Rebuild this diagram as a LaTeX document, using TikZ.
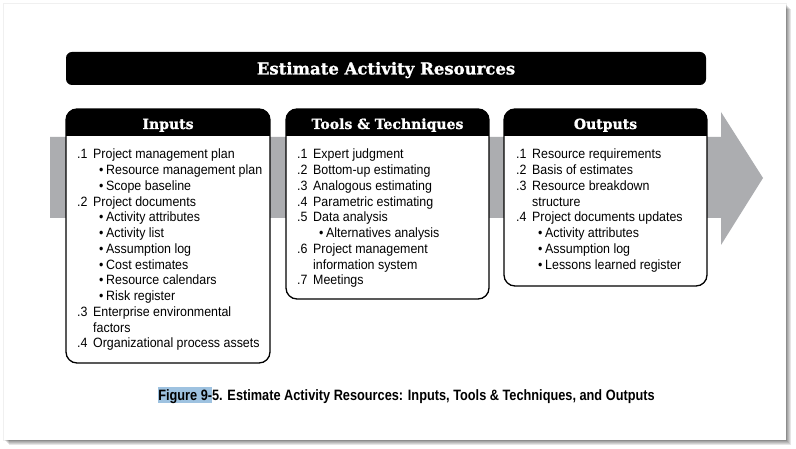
\documentclass[tikz,border=0pt]{standalone}
\usepackage{fontspec}
\setmainfont{Liberation Sans}
\newfontfamily\bodyfont[FakeStretch=0.92]{Liberation Sans}
\newfontfamily\capfont[FakeStretch=0.85]{Liberation Sans}
\newfontfamily\headfont[BoldFeatures={FakeBold=1.2}]{DejaVu Serif}
\definecolor{arrowgray}{RGB}{172,173,176}
\definecolor{hilite}{RGB}{158,194,224}
\newcommand\numline[2]{\makebox[16pt][l]{#1}#2}
\newcommand\bulline[1]{\hspace*{22pt}\makebox[7pt][l]{\textbullet}#1}
\newcommand\contline[1]{\hspace*{16pt}#1}
\tikzset{
  boxborder/.style={draw=black,line width=1.3pt,rounded corners=11pt},
  headtxt/.style={text=white,font=\headfont\bfseries\fontsize{14}{16}\selectfont,inner sep=0pt,anchor=base},
  linetxt/.style={font=\bodyfont\fontsize{13.5}{15.75}\selectfont,inner sep=0pt,anchor=base west},
}
\begin{document}
\begin{tikzpicture}[x=1pt,y=-1pt]
\useasboundingbox (0,0) rectangle (796,449);
% page shadow
\fill[black,opacity=0.06] (3,3) rectangle (787,441);
\foreach \o in {1,...,5}{\fill[black,opacity=0.1] (4+\o,4+\o) rectangle (786+\o,440+\o);}
\fill[white] (4,4) rectangle (786,440);
% big arrow
\fill[arrowgray] (50,137) -- (721,137) -- (721,112) -- (763,178) -- (721,245) -- (721,218) -- (50,218) -- cycle;
% title bar
\fill[black,rounded corners=6pt] (66,52) rectangle (706,85);
\node[headtxt,font=\headfont\bfseries\fontsize{16.5}{18}\selectfont] (title) at (386,74.5) {Estimate Activity Resources};
% boxes
\foreach \xa/\xb/\yb/\nm in {66/270/363/in,286/489/299/tt,504/707/286/out}{
  \fill[white,rounded corners=11pt] (\xa,109) rectangle (\xb,\yb);
  \begin{scope}
    \clip[rounded corners=11pt] (\xa,109) rectangle (\xb,\yb);
    \fill[black] (\xa,109) rectangle (\xb,136);
  \end{scope}
  \draw[boxborder] (\xa,109) rectangle (\xb,\yb);
}
\node[headtxt] (inhead) at (168,129) {Inputs};
\node[headtxt] (tthead) at (387.5,129) {Tools \& Techniques};
\node[headtxt] (outhead) at (605.5,129) {Outputs};
% inputs
\foreach [count=\i] \t in {
  {\numline{.1}{Project management plan}},
  {\bulline{Resource management plan}},
  {\bulline{Scope baseline}},
  {\numline{.2}{Project documents}},
  {\bulline{Activity attributes}},
  {\bulline{Activity list}},
  {\bulline{Assumption log}},
  {\bulline{Cost estimates}},
  {\bulline{Resource calendars}},
  {\bulline{Risk register}},
  {\numline{.3}{Enterprise environmental}},
  {\contline{factors}},
  {\numline{.4}{Organizational process assets}}}
  {\node[linetxt] (in\i) at (77,159+\i*15.75-15.75) {\t};}
% tools
\foreach [count=\i] \t in {
  {\numline{.1}{Expert judgment}},
  {\numline{.2}{Bottom-up estimating}},
  {\numline{.3}{Analogous estimating}},
  {\numline{.4}{Parametric estimating}},
  {\numline{.5}{Data analysis}},
  {\bulline{Alternatives analysis}},
  {\numline{.6}{Project management}},
  {\contline{information system}},
  {\numline{.7}{Meetings}}}
  {\node[linetxt] (tt\i) at (297,159+\i*15.75-15.75) {\t};}
% outputs
\foreach [count=\i] \t in {
  {\numline{.1}{Resource requirements}},
  {\numline{.2}{Basis of estimates}},
  {\numline{.3}{Resource breakdown}},
  {\contline{structure}},
  {\numline{.4}{Project documents updates}},
  {\bulline{Activity attributes}},
  {\bulline{Assumption log}},
  {\bulline{Lessons learned register}}}
  {\node[linetxt] (out\i) at (516,159+\i*15.75-15.75) {\t};}
% caption
\node[inner sep=0pt,anchor=base,font=\capfont\bfseries\fontsize{15}{17}\selectfont] (caption) at (406.5,400)
  {{\fboxsep=0pt\colorbox{hilite}{\rule[-3pt]{0pt}{16pt}Figure 9-}}5. Estimate Activity Resources: Inputs, Tools \& Techniques, and Outputs};
\end{tikzpicture}
\end{document}
